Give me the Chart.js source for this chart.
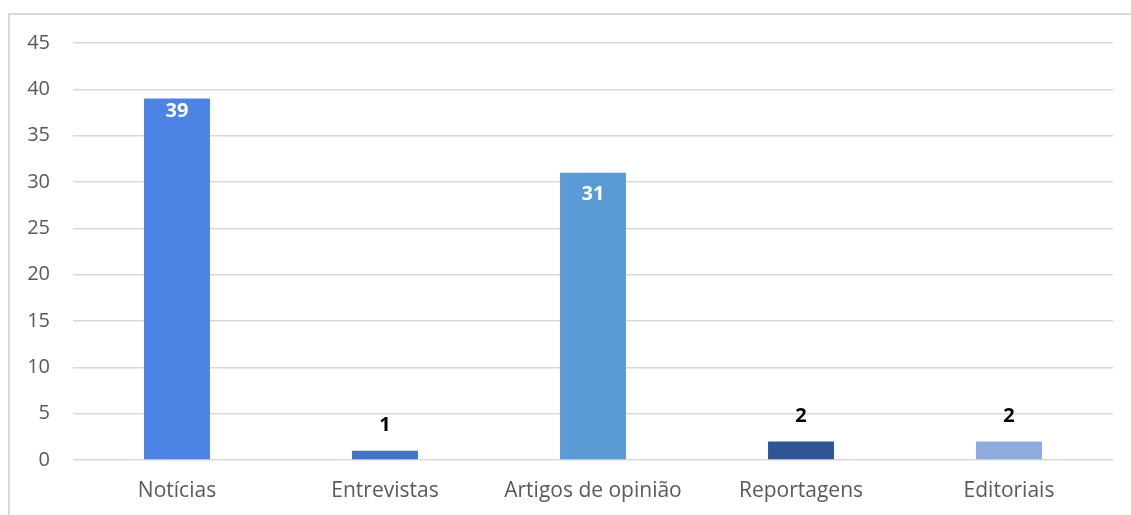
<!DOCTYPE html>
<html>
<head>
<meta charset="utf-8">
<script src="https://cdn.jsdelivr.net/npm/chart.js@4/dist/chart.umd.min.js"></script>
<style>
  html, body { margin: 0; padding: 0; background: #fff; overflow: hidden; }
  #wrap { position: absolute; left: 0; top: 0; width: 1131px; height: 515px; }
  #frame { position: absolute; left: 8px; top: 13px; width: 1200px; height: 600px; border: 2px solid #d9d9d9; box-sizing: border-box; }
  canvas { position: absolute; left: 0; top: 0; }
</style>
</head>
<body>
<div id="wrap">
  <div id="frame"></div>
  <canvas id="c" width="1131" height="515"></canvas>
</div>
<script>
const categories = ["Notícias", "Entrevistas", "Artigos de opinião", "Reportagens", "Editoriais"];
const values = [39, 1, 31, 2, 2];
const barColors = ["#4E83E6", "#4472C4", "#5B9BD5", "#2F5597", "#8FAADC"];
const yTicks = [0, 5, 10, 15, 20, 25, 30, 35, 40, 45];

const FONT = "'Open Sans', 'Liberation Sans', sans-serif";

const valueLabels = {
  id: 'valueLabels',
  afterDatasetsDraw(chart, args, opts) {
    const ctx = chart.ctx;
    const meta = chart.getDatasetMeta(0);
    const insideOffsets = opts.insideOffsets || [];
    ctx.save();
    ctx.font = "bold 20px " + FONT;
    ctx.textAlign = 'center';
    ctx.textBaseline = 'middle';
    meta.data.forEach((bar, i) => {
      const v = chart.data.datasets[0].data[i];
      const h = bar.base - bar.y;
      if (h > 40) {
        ctx.fillStyle = '#ffffff';
        ctx.fillText(String(v), bar.x, bar.y + (insideOffsets[i] || 13));
      } else {
        ctx.fillStyle = '#000000';
        ctx.fillText(String(v), bar.x, bar.y - 25);
      }
    });
    ctx.restore();
  }
};

new Chart(document.getElementById('c'), {
  type: 'bar',
  data: {
    labels: categories,
    datasets: [{
      data: values,
      backgroundColor: barColors,
      borderWidth: 0,
      categoryPercentage: 1,
      barPercentage: 0.317
    }]
  },
  options: {
    responsive: false,
    animation: false,
    devicePixelRatio: 1,
    layout: { padding: { left: 0, right: 18, top: 43, bottom: 0 } },
    plugins: {
      legend: { display: false },
      tooltip: { enabled: false },
      valueLabels: { insideOffsets: [13, 13, 22, 13, 13] }
    },
    scales: {
      x: {
        grid: { display: false, drawTicks: false },
        border: { display: false },
        ticks: { color: '#595959', font: { family: FONT, size: 21 }, padding: 18, maxRotation: 0 },
        afterFit(scale) { scale.height = 55; }
      },
      y: {
        min: 0, max: 45,
        afterBuildTicks(scale) { scale.ticks = yTicks.map(v => ({ value: v })); },
        grid: { color: '#d9d9d9', lineWidth: 1.5, drawTicks: false },
        border: { display: false },
        ticks: { color: '#595959', font: { family: FONT, size: 20 }, padding: 23 },
        afterFit(scale) { scale.width = 73; }
      }
    }
  },
  plugins: [valueLabels]
});
</script>
</body>
</html>
